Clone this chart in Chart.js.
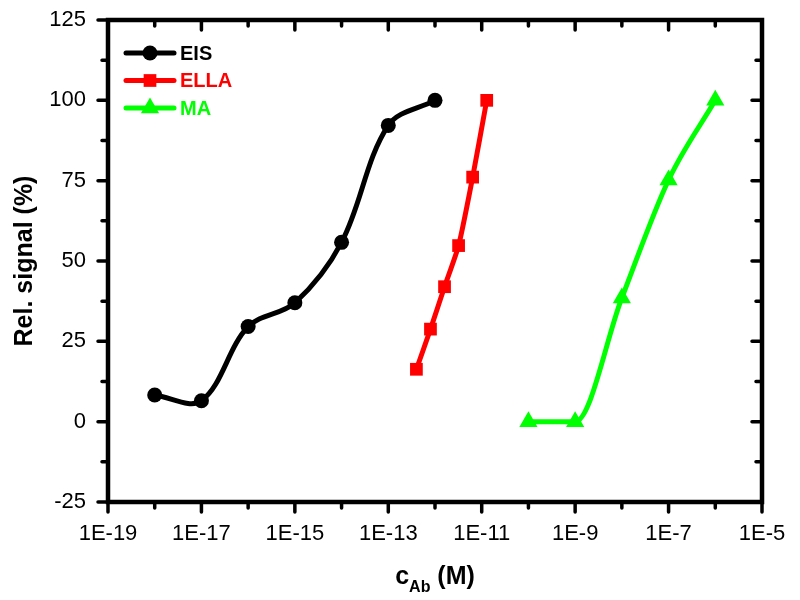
<!DOCTYPE html>
<html>
<head>
<meta charset="utf-8">
<script src="https://cdn.jsdelivr.net/npm/chart.js@4/dist/chart.umd.min.js"></script>
<style>
  html, body { margin: 0; padding: 0; background: #fff; }
  canvas { display: block; }
</style>
</head>
<body>
<canvas id="c" width="800" height="600"></canvas>
<script>
// ---- Data ----
const eisConc  = [1e-18, 1e-17, 1e-16, 1e-15, 1e-14, 1e-13, 1e-12];
const eisSig   = [8.3, 6.5, 29.6, 37.0, 55.8, 92.2, 100];
const ellaConc = [4e-13, 8e-13, 1.6e-12, 3.2e-12, 6.4e-12, 1.28e-11];
const ellaSig  = [16.3, 28.8, 42.0, 54.8, 76.1, 100];
const maConc   = [1e-10, 1e-9, 1e-8, 1e-7, 1e-6];
const maSig    = [0, 0, 38.5, 75.2, 100];
const seriesNames = ['EIS', 'ELLA', 'MA'];
const xTickExps = [-19, -17, -15, -13, -11, -9, -7, -5];
const yTicks = [-25, 0, 25, 50, 75, 100, 125];

const FONT = '"Liberation Sans", Arial, sans-serif';
const toXY = (xs, ys) => xs.map((x, i) => ({ x: x, y: ys[i] }));

function drawMarker(ctx, style, x, y, r, color) {
  ctx.save();
  ctx.fillStyle = color;
  ctx.beginPath();
  if (style === 'circle') {
    ctx.arc(x, y, r, 0, Math.PI * 2);
  } else if (style === 'rect') {
    const s = r * Math.SQRT1_2;
    ctx.rect(x - s, y - s, 2 * s, 2 * s);
  } else if (style === 'triangle') {
    ctx.moveTo(x, y - r);
    ctx.lineTo(x + r * Math.cos(Math.PI / 6), y + r * 0.5);
    ctx.lineTo(x - r * Math.cos(Math.PI / 6), y + r * 0.5);
    ctx.closePath();
  }
  ctx.fill();
  ctx.restore();
}

const framePlugin = {
  id: 'frameTicks',
  afterDraw(chart) {
    const { ctx, chartArea: a, scales } = chart;
    const xs = scales.x, ys = scales.y;
    ctx.save();
    ctx.strokeStyle = '#000';
    ctx.lineCap = 'round';
    ctx.lineWidth = 3.5;
    const major = 10, minor = 6;
    for (let e = -19; e <= -5; e++) {
      const px = xs.getPixelForValue(Math.pow(10, e));
      const len = (e % 2 !== 0) ? major : minor;
      ctx.beginPath();
      ctx.moveTo(px, a.bottom); ctx.lineTo(px, a.bottom + len);
      ctx.moveTo(px, a.top); ctx.lineTo(px, a.top + len);
      ctx.stroke();
    }
    for (let v = -25; v <= 125; v += 12.5) {
      const py = ys.getPixelForValue(v);
      const len = (v % 25 === 0) ? major : minor;
      ctx.beginPath();
      ctx.moveTo(a.left, py); ctx.lineTo(a.left - len, py);
      ctx.moveTo(a.right, py); ctx.lineTo(a.right - len, py);
      ctx.stroke();
    }
    ctx.lineCap = 'square';
    ctx.lineWidth = 4.5;
    ctx.strokeRect(a.left, a.top, a.right - a.left, a.bottom - a.top);

    chart.data.datasets.forEach((ds, i) => {
      const y = 53 + i * 27.5;
      ctx.lineCap = 'round';
      ctx.strokeStyle = ds.borderColor;
      ctx.lineWidth = 5;
      ctx.beginPath(); ctx.moveTo(126, y); ctx.lineTo(174, y); ctx.stroke();
      drawMarker(ctx, ds.pointStyle, 150, y, ds.pointRadius, ds.borderColor);
      ctx.fillStyle = ds.borderColor;
      ctx.font = 'bold 20px ' + FONT;
      ctx.textAlign = 'left';
      ctx.textBaseline = 'middle';
      ctx.fillText(ds.label, 180, y + 1);
    });

    ctx.fillStyle = '#000';
    ctx.textBaseline = 'alphabetic';
    ctx.textAlign = 'left';
    const p1 = 'c', p2 = 'Ab', p3 = ' (M)';
    ctx.font = 'bold 25px ' + FONT; const w1 = ctx.measureText(p1).width;
    const w3 = ctx.measureText(p3).width;
    ctx.font = 'bold 16px ' + FONT; const w2 = ctx.measureText(p2).width;
    const cx = (a.left + a.right) / 2;
    let x0 = cx - (w1 + w2 + w3) / 2;
    const base = 584;
    ctx.font = 'bold 25px ' + FONT; ctx.fillText(p1, x0, base);
    ctx.font = 'bold 16px ' + FONT; ctx.fillText(p2, x0 + w1, base + 8);
    ctx.font = 'bold 25px ' + FONT; ctx.fillText(p3, x0 + w1 + w2, base);
    ctx.restore();
  }
};

const common = { borderWidth: 5, pointBorderWidth: 0, tension: 0.4, fill: false };

new Chart(document.getElementById('c'), {
  type: 'line',
  data: {
    datasets: [
      Object.assign({ label: seriesNames[0], data: toXY(eisConc, eisSig), borderColor: '#000000', backgroundColor: '#000000', pointStyle: 'circle', pointRadius: 7.5 }, common, { tension: 0.35 }),
      Object.assign({ label: seriesNames[1], data: toXY(ellaConc, ellaSig), borderColor: '#ff0000', backgroundColor: '#ff0000', pointStyle: 'rect', pointRadius: 9 }, common, { tension: 0.2 }),
      Object.assign({ label: seriesNames[2], data: toXY(maConc, maSig), borderColor: '#00ff00', backgroundColor: '#00ff00', pointStyle: 'triangle', pointRadius: 10.5 }, common, { cubicInterpolationMode: 'monotone' })
    ]
  },
  options: {
    responsive: false,
    animation: false,
    devicePixelRatio: 1,
    layout: { padding: { top: 20, right: 38, left: 0, bottom: 0 } },
    plugins: { legend: { display: false }, tooltip: { enabled: false } },
    scales: {
      x: {
        type: 'logarithmic',
        min: 1e-19, max: 1e-5,
        grid: { display: false },
        border: { display: false },
        afterBuildTicks: (s) => { s.ticks = xTickExps.map(e => ({ value: Math.pow(10, e) })); },
        afterFit: (s) => { s.height = 98; s.paddingLeft = 0; s.paddingRight = 0; },
        ticks: {
          autoSkip: false, maxRotation: 0, padding: 11, color: '#000',
          font: { family: FONT, size: 22 },
          callback: (v) => '1E' + Math.round(Math.log10(v))
        }
      },
      y: {
        min: -25, max: 125,
        grid: { display: false },
        border: { display: false },
        afterBuildTicks: (s) => { s.ticks = yTicks.map(v => ({ value: v })); },
        afterFit: (s) => { s.width = 108; s.paddingTop = 0; s.paddingBottom = 0; },
        ticks: { padding: 14, color: '#000', font: { family: FONT, size: 22 } },
        title: { display: true, text: 'Rel. signal (%)', color: '#000', font: { family: FONT, size: 25, weight: 'bold' }, padding: { top: 10, bottom: 0 } }
      }
    }
  },
  plugins: [framePlugin]
});
</script>
</body>
</html>
